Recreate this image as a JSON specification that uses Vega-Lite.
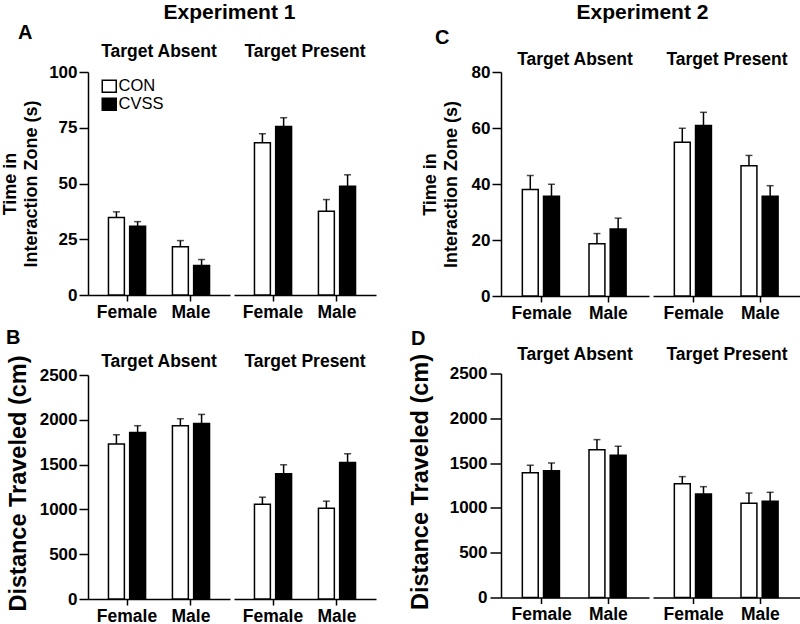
{
  "$schema": "https://vega.github.io/schema/vega-lite/v6.json",
  "background": "white",
  "padding": {"left": 0, "top": 1, "right": 0, "bottom": 0},
  "config": {
    "font": "Liberation Sans",
    "view": {"stroke": null},
    "axis": {"domainColor": "black", "domainWidth": 1.5, "tickColor": "black", "tickWidth": 1.5, "labelColor": "black", "labelFontWeight": "bold", "labelFontSize": 17, "labelFont": "Liberation Sans", "titleColor": "black", "titleFontWeight": "bold", "titleFont": "Liberation Sans", "grid": false},
    "axisX": {"labelFontSize": 17.5},
    "header": {"labelFont": "Liberation Sans", "labelFontSize": 17.5, "labelFontWeight": "bold", "labelColor": "black"},
    "title": {"font": "Liberation Sans", "fontWeight": "bold", "color": "black"}
  },
  "datasets": {
    "A": [
      {"target": "Target Absent", "sex": "Female", "group": "CON", "mean": 34.7, "upper": 37.3},
      {"target": "Target Absent", "sex": "Female", "group": "CVSS", "mean": 30.8, "upper": 32.9},
      {"target": "Target Absent", "sex": "Male", "group": "CON", "mean": 21.6, "upper": 24.4},
      {"target": "Target Absent", "sex": "Male", "group": "CVSS", "mean": 13.2, "upper": 15.9},
      {"target": "Target Present", "sex": "Female", "group": "CON", "mean": 68.3, "upper": 72.3},
      {"target": "Target Present", "sex": "Female", "group": "CVSS", "mean": 75.6, "upper": 79.5},
      {"target": "Target Present", "sex": "Male", "group": "CON", "mean": 37.6, "upper": 42.8},
      {"target": "Target Present", "sex": "Male", "group": "CVSS", "mean": 48.8, "upper": 53.9}
    ],
    "B": [
      {"target": "Target Absent", "sex": "Female", "group": "CON", "mean": 1729, "upper": 1833},
      {"target": "Target Absent", "sex": "Female", "group": "CVSS", "mean": 1859, "upper": 1934},
      {"target": "Target Absent", "sex": "Male", "group": "CON", "mean": 1934, "upper": 2012},
      {"target": "Target Absent", "sex": "Male", "group": "CVSS", "mean": 1960, "upper": 2060},
      {"target": "Target Present", "sex": "Female", "group": "CON", "mean": 1058, "upper": 1136},
      {"target": "Target Present", "sex": "Female", "group": "CVSS", "mean": 1397, "upper": 1498},
      {"target": "Target Present", "sex": "Male", "group": "CON", "mean": 1013, "upper": 1092},
      {"target": "Target Present", "sex": "Male", "group": "CVSS", "mean": 1524, "upper": 1621}
    ],
    "C": [
      {"target": "Target Absent", "sex": "Female", "group": "CON", "mean": 38.0, "upper": 43.0},
      {"target": "Target Absent", "sex": "Female", "group": "CVSS", "mean": 35.6, "upper": 39.9},
      {"target": "Target Absent", "sex": "Male", "group": "CON", "mean": 18.7, "upper": 22.3},
      {"target": "Target Absent", "sex": "Male", "group": "CVSS", "mean": 23.9, "upper": 27.8},
      {"target": "Target Present", "sex": "Female", "group": "CON", "mean": 54.9, "upper": 59.9},
      {"target": "Target Present", "sex": "Female", "group": "CVSS", "mean": 60.9, "upper": 65.6},
      {"target": "Target Present", "sex": "Male", "group": "CON", "mean": 46.5, "upper": 50.2},
      {"target": "Target Present", "sex": "Male", "group": "CVSS", "mean": 35.6, "upper": 39.4}
    ],
    "D": [
      {"target": "Target Absent", "sex": "Female", "group": "CON", "mean": 1393, "upper": 1475},
      {"target": "Target Absent", "sex": "Female", "group": "CVSS", "mean": 1416, "upper": 1501},
      {"target": "Target Absent", "sex": "Male", "group": "CON", "mean": 1650, "upper": 1762},
      {"target": "Target Absent", "sex": "Male", "group": "CVSS", "mean": 1587, "upper": 1688},
      {"target": "Target Present", "sex": "Female", "group": "CON", "mean": 1270, "upper": 1349},
      {"target": "Target Present", "sex": "Female", "group": "CVSS", "mean": 1155, "upper": 1237},
      {"target": "Target Present", "sex": "Male", "group": "CON", "mean": 1051, "upper": 1166},
      {"target": "Target Present", "sex": "Male", "group": "CVSS", "mean": 1073, "upper": 1174}
    ]
  },
  "columns": 2,
  "align": "none",
  "spacing": 31,
  "concat": [
    {
      "title": {"text": "Experiment 1", "fontSize": 21, "anchor": "middle", "frame": "bounds", "dx": 41, "offset": 0},
      "spacing": 6,
      "vconcat": [
        {
          "data": {"name": "A"},
          "title": {"text": "A", "anchor": "start", "frame": "bounds", "dx": 17, "fontSize": 20, "offset": 0},
          "spacing": 4,
          "bounds": "flush",
          "facet": {"column": {"field": "target", "type": "nominal", "sort": ["Target Absent", "Target Present"], "title": null, "header": {"labelPadding": 12}}},
          "spec": {
            "width": 142,
            "height": 223,
            "encoding": {
              "x": {"field": "sex", "type": "nominal", "sort": ["Female", "Male"], "title": null, "scale": {"paddingInner": 0.42, "paddingOuter": 0.32}, "axis": {"labelAngle": 0, "tickSize": 6, "labelPadding": 2}},
              "xOffset": {"field": "group", "type": "nominal", "sort": ["CON", "CVSS"], "scale": {"paddingInner": 0.25, "paddingOuter": 0}}
            },
            "layer": [
              {
                "mark": {"type": "bar", "stroke": "black", "strokeWidth": 1.5},
                "encoding": {
                  "y": {"field": "mean", "type": "quantitative", "title": ["Time in", "Interaction Zone (s)"], "scale": {"domain": [0, 100], "nice": false}, "axis": {"values": [0, 25, 50, 75, 100], "format": "d", "titleFontSize": 18, "titleLineHeight": 21, "titleX": -69, "tickSize": 9, "labelPadding": 2}},
                  "fill": {"field": "group", "type": "nominal", "scale": {"domain": ["CON", "CVSS"], "range": ["white", "black"]},
                    "legend": {"orient": "none", "legendX": 13, "legendY": 6, "title": null, "symbolType": "M-1,-0.85H1V0.85H-1Z", "symbolSize": 196, "symbolStrokeColor": "black", "symbolStrokeWidth": 1.5, "labelFontSize": 16.5, "labelFont": "Liberation Sans", "labelColor": "black", "rowPadding": -7, "labelOffset": 1}}
                }
              },
              {
                "mark": {"type": "rule", "color": "black", "strokeWidth": 1.5},
                "encoding": {"y": {"field": "mean", "type": "quantitative", "title": ["Time in", "Interaction Zone (s)"]}, "y2": {"field": "upper"}}
              },
              {
                "mark": {"type": "tick", "color": "black", "thickness": 1.5, "size": 7},
                "encoding": {"y": {"field": "upper", "type": "quantitative", "title": ["Time in", "Interaction Zone (s)"]}}
              }
            ]
          }
        },
        {
          "data": {"name": "B"},
          "title": {"text": "B", "anchor": "start", "frame": "bounds", "dx": 0, "fontSize": 20, "offset": 5},
          "spacing": 4,
          "bounds": "flush",
          "facet": {"column": {"field": "target", "type": "nominal", "sort": ["Target Absent", "Target Present"], "title": null, "header": {"labelPadding": 5}}},
          "spec": {
            "width": 142,
            "height": 224,
            "encoding": {
              "x": {"field": "sex", "type": "nominal", "sort": ["Female", "Male"], "title": null, "scale": {"paddingInner": 0.42, "paddingOuter": 0.32}, "axis": {"labelAngle": 0, "tickSize": 6, "labelPadding": 2}},
              "xOffset": {"field": "group", "type": "nominal", "sort": ["CON", "CVSS"], "scale": {"paddingInner": 0.25, "paddingOuter": 0}}
            },
            "layer": [
              {
                "mark": {"type": "bar", "stroke": "black", "strokeWidth": 1.5},
                "encoding": {
                  "y": {"field": "mean", "type": "quantitative", "title": "Distance Traveled (cm)", "scale": {"domain": [0, 2500], "nice": false}, "axis": {"values": [0, 500, 1000, 1500, 2000, 2500], "format": "d", "titleFontSize": 23.5, "titleX": -58, "titleY": 108, "tickSize": 9, "labelPadding": 2}},
                  "fill": {"field": "group", "type": "nominal", "scale": {"domain": ["CON", "CVSS"], "range": ["white", "black"]}, "legend": null}
                }
              },
              {
                "mark": {"type": "rule", "color": "black", "strokeWidth": 1.5},
                "encoding": {"y": {"field": "mean", "type": "quantitative", "title": "Distance Traveled (cm)"}, "y2": {"field": "upper"}}
              },
              {
                "mark": {"type": "tick", "color": "black", "thickness": 1.5, "size": 7},
                "encoding": {"y": {"field": "upper", "type": "quantitative", "title": "Distance Traveled (cm)"}}
              }
            ]
          }
        }
      ]
    },
    {
      "title": {"text": "Experiment 2", "fontSize": 21, "anchor": "middle", "frame": "bounds", "dx": 38, "offset": 5},
      "spacing": 6.5,
      "vconcat": [
        {
          "data": {"name": "C"},
          "title": {"text": "C", "anchor": "start", "frame": "bounds", "dx": 14, "fontSize": 20, "offset": 3},
          "spacing": 4,
          "bounds": "flush",
          "facet": {"column": {"field": "target", "type": "nominal", "sort": ["Target Absent", "Target Present"], "title": null, "header": {"labelPadding": 4}}},
          "spec": {
            "width": 148,
            "height": 224,
            "encoding": {
              "x": {"field": "sex", "type": "nominal", "sort": ["Female", "Male"], "title": null, "scale": {"paddingInner": 0.42, "paddingOuter": 0.32}, "axis": {"labelAngle": 0, "tickSize": 6, "labelPadding": 2}},
              "xOffset": {"field": "group", "type": "nominal", "sort": ["CON", "CVSS"], "scale": {"paddingInner": 0.25, "paddingOuter": 0}}
            },
            "layer": [
              {
                "mark": {"type": "bar", "stroke": "black", "strokeWidth": 1.5},
                "encoding": {
                  "y": {"field": "mean", "type": "quantitative", "title": ["Time in", "Interaction Zone (s)"], "scale": {"domain": [0, 80], "nice": false}, "axis": {"values": [0, 20, 40, 60, 80], "format": "d", "titleFontSize": 18, "titleLineHeight": 21, "titleX": -62, "tickSize": 9, "labelPadding": 2}},
                  "fill": {"field": "group", "type": "nominal", "scale": {"domain": ["CON", "CVSS"], "range": ["white", "black"]}, "legend": null}
                }
              },
              {
                "mark": {"type": "rule", "color": "black", "strokeWidth": 1.5},
                "encoding": {"y": {"field": "mean", "type": "quantitative", "title": ["Time in", "Interaction Zone (s)"]}, "y2": {"field": "upper"}}
              },
              {
                "mark": {"type": "tick", "color": "black", "thickness": 1.5, "size": 7},
                "encoding": {"y": {"field": "upper", "type": "quantitative", "title": ["Time in", "Interaction Zone (s)"]}}
              }
            ]
          }
        },
        {
          "data": {"name": "D"},
          "title": {"text": "D", "anchor": "start", "frame": "bounds", "dx": 3, "fontSize": 20, "offset": -3.5},
          "spacing": 4,
          "bounds": "flush",
          "facet": {"column": {"field": "target", "type": "nominal", "sort": ["Target Absent", "Target Present"], "title": null, "header": {"labelPadding": 10.5}}},
          "spec": {
            "width": 148,
            "height": 224,
            "encoding": {
              "x": {"field": "sex", "type": "nominal", "sort": ["Female", "Male"], "title": null, "scale": {"paddingInner": 0.42, "paddingOuter": 0.32}, "axis": {"labelAngle": 0, "tickSize": 6, "labelPadding": 2}},
              "xOffset": {"field": "group", "type": "nominal", "sort": ["CON", "CVSS"], "scale": {"paddingInner": 0.25, "paddingOuter": 0}}
            },
            "layer": [
              {
                "mark": {"type": "bar", "stroke": "black", "strokeWidth": 1.5},
                "encoding": {
                  "y": {"field": "mean", "type": "quantitative", "title": "Distance Traveled (cm)", "scale": {"domain": [0, 2500], "nice": false}, "axis": {"values": [0, 500, 1000, 1500, 2000, 2500], "format": "d", "titleFontSize": 23.5, "titleX": -69, "titleY": 108, "tickSize": 11, "labelPadding": 3}},
                  "fill": {"field": "group", "type": "nominal", "scale": {"domain": ["CON", "CVSS"], "range": ["white", "black"]}, "legend": null}
                }
              },
              {
                "mark": {"type": "rule", "color": "black", "strokeWidth": 1.5},
                "encoding": {"y": {"field": "mean", "type": "quantitative", "title": "Distance Traveled (cm)"}, "y2": {"field": "upper"}}
              },
              {
                "mark": {"type": "tick", "color": "black", "thickness": 1.5, "size": 7},
                "encoding": {"y": {"field": "upper", "type": "quantitative", "title": "Distance Traveled (cm)"}}
              }
            ]
          }
        }
      ]
    }
  ]
}
